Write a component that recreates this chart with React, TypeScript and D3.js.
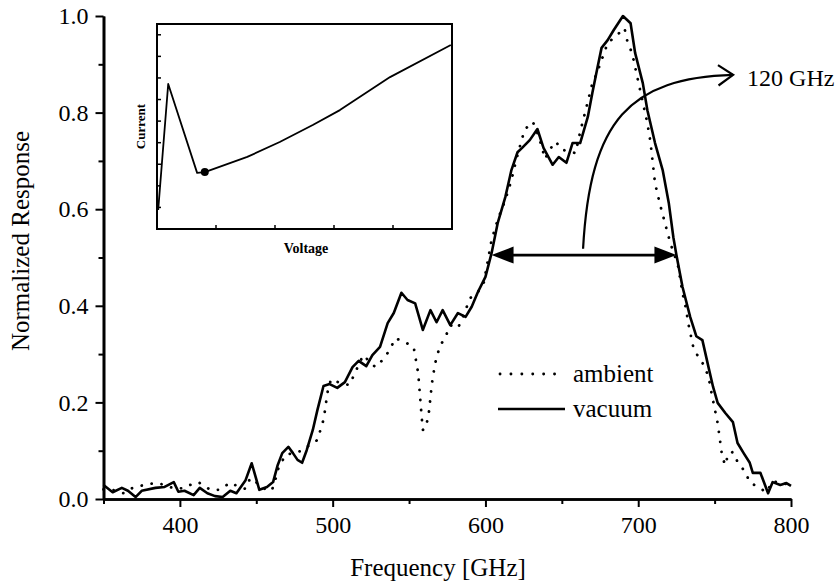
import React, { useEffect, useRef } from "react";
import * as d3 from "d3";

type Pt = [number, number];

// frequency [GHz], normalized response
const vacuum: Pt[] = [
  [350, 0.029], [356, 0.014], [362, 0.023], [366, 0.017], [371, 0.004], [375, 0.017],
  [384, 0.023], [390, 0.025], [396, 0.035], [399, 0.015], [403, 0.017], [409, 0.008],
  [413, 0.023], [418, 0.012], [423, 0.006], [428, 0.004], [433, 0.017], [437, 0.012],
  [443, 0.039], [447, 0.074], [452, 0.019], [457, 0.025], [461, 0.035], [464, 0.07],
  [467, 0.095], [471, 0.108], [474, 0.095], [477, 0.081], [480, 0.075], [483, 0.101],
  [487, 0.143], [490, 0.184], [494, 0.234], [498, 0.238], [503, 0.23], [508, 0.242],
  [513, 0.273], [517, 0.286], [522, 0.275], [526, 0.298], [531, 0.315], [536, 0.364],
  [540, 0.385], [545, 0.427], [549, 0.412], [554, 0.405], [559, 0.35], [564, 0.391],
  [568, 0.366], [572, 0.391], [577, 0.36], [582, 0.385], [587, 0.377], [591, 0.398],
  [595, 0.428], [600, 0.46], [604, 0.509], [608, 0.571], [613, 0.625], [617, 0.681],
  [621, 0.718], [624, 0.727], [629, 0.743], [634, 0.766], [638, 0.727], [644, 0.692],
  [648, 0.708], [653, 0.696], [657, 0.737], [662, 0.737], [667, 0.791], [670, 0.841],
  [673, 0.888], [676, 0.934], [680, 0.95], [684, 0.971], [690, 1.0], [695, 0.985],
  [698, 0.923], [703, 0.861], [706, 0.805], [711, 0.737], [716, 0.681], [720, 0.613],
  [723, 0.542], [725, 0.505], [729, 0.439], [734, 0.377], [738, 0.337], [742, 0.329],
  [746, 0.273], [749, 0.232], [752, 0.199], [757, 0.178], [762, 0.159], [765, 0.116],
  [769, 0.095], [773, 0.075], [775, 0.054], [780, 0.054], [785, 0.012], [788, 0.035],
  [793, 0.029], [797, 0.033], [800, 0.027],
];

const ambient: Pt[] = [
  [350, 0.02], [357, 0.018], [363, 0.012], [369, 0.023], [374, 0.027], [379, 0.031],
  [385, 0.033], [390, 0.029], [396, 0.022], [402, 0.022], [408, 0.031], [412, 0.035],
  [416, 0.027], [420, 0.019], [426, 0.019], [433, 0.034], [438, 0.026], [443, 0.021],
  [446, 0.043], [452, 0.03], [456, 0.02], [460, 0.017], [462, 0.033], [464, 0.06],
  [469, 0.091], [474, 0.095], [480, 0.1], [485, 0.112], [490, 0.122], [492, 0.143],
  [494, 0.164], [495, 0.184], [496, 0.207], [497, 0.228], [499, 0.248], [505, 0.24],
  [511, 0.236], [514, 0.257], [520, 0.298], [524, 0.285], [528, 0.273], [534, 0.292],
  [538, 0.313], [541, 0.333], [547, 0.325], [553, 0.315], [556, 0.26], [558, 0.18],
  [559, 0.143], [561, 0.147], [563, 0.18], [565, 0.24], [567, 0.28], [570, 0.315],
  [574, 0.337], [577, 0.36], [582, 0.354], [585, 0.375], [590, 0.416], [595, 0.428],
  [599, 0.449], [604, 0.536], [608, 0.578], [613, 0.619], [617, 0.66], [620, 0.7],
  [624, 0.747], [626, 0.766], [631, 0.781], [635, 0.75], [639, 0.704], [642, 0.723],
  [646, 0.74], [650, 0.723], [655, 0.72], [659, 0.716], [662, 0.76], [666, 0.81],
  [670, 0.861], [673, 0.882], [680, 0.944], [686, 0.96], [691, 0.975], [693, 0.946],
  [696, 0.923], [701, 0.85], [706, 0.778], [708, 0.739], [711, 0.654], [714, 0.613],
  [721, 0.53], [726, 0.484], [729, 0.426], [731, 0.398], [733, 0.36], [736, 0.315],
  [739, 0.296], [743, 0.277], [746, 0.253], [748, 0.219], [752, 0.157], [755, 0.087],
  [757, 0.07], [759, 0.095], [762, 0.097], [765, 0.077], [770, 0.056], [773, 0.035],
  [778, 0.025], [784, 0.014], [788, 0.037], [793, 0.033], [800, 0.03],
];

const xTicks = [400, 500, 600, 700, 800];
const xMinorTicks = [350, 450, 550, 650, 750];
const yTicks = [0, 0.2, 0.4, 0.6, 0.8, 1.0];
const yMinorTicks = [0.1, 0.3, 0.5, 0.7, 0.9];

const legendItems = [
  { label: "ambient", dotted: true },
  { label: "vacuum", dotted: false },
];

// inset I-V curve (arbitrary voltage / current units)
const ivCurve: Pt[] = [
  [0.02, 0.88], [0.19, 6.72], [0.68, 2.6], [0.81, 2.64], [1.53, 3.34], [2.08, 4.03],
  [2.64, 4.82], [3.1, 5.51], [3.95, 7.04], [4.98, 8.53],
];
const ivBias: Pt = [0.81, 2.64];
const insetXTicks = [1, 2, 3, 4];
const insetYTicks = [1, 2, 3, 4, 5, 6, 7, 8, 9];

// bandwidth annotation
const fwhm = { from: 604, to: 725, level: 0.505 };
const bandwidthCurve: Pt[] = [[663.9, 0.518], [668.5, 0.785], [694.7, 0.872], [762.1, 0.878]];
const bandwidthLabel = "120 GHz";

const W = 839;
const H = 584;
const FONT = "Liberation Serif, DejaVu Serif, Times New Roman, serif";

export default function App() {
  const svgRef = useRef<SVGSVGElement>(null);

  useEffect(() => {
    document.body.style.margin = "0";
    if (!svgRef.current) return;
    const svg = d3.select(svgRef.current);
    svg.selectAll("*").remove();

    const x = d3.scaleLinear().domain([350, 800]).range([103.5, 791]);
    const y = d3.scaleLinear().domain([0, 1]).range([499, 16]);

    // Axes
    const styleAxis = (g: d3.Selection<SVGGElement, unknown, null, undefined>) => {
      g.attr("font-family", FONT).attr("font-size", 24);
      g.select(".domain").attr("stroke", "#000").attr("stroke-width", 2.6);
      g.selectAll(".tick line").attr("stroke", "#000").attr("stroke-width", 2);
      g.selectAll(".tick text").attr("fill", "#000");
    };

    const xMinor = svg.append("g").attr("transform", `translate(0,${y(0)})`)
      .call(d3.axisBottom(x).tickValues(xMinorTicks).tickSize(5).tickSizeOuter(0).tickFormat(() => ""));
    styleAxis(xMinor);
    const xAxis = svg.append("g").attr("transform", `translate(0,${y(0)})`)
      .call(d3.axisBottom(x).tickValues(xTicks).tickSize(8).tickSizeOuter(0).tickPadding(9)
        .tickFormat((d) => String(d)));
    styleAxis(xAxis);

    const yMinor = svg.append("g").attr("transform", `translate(${x(350)},0)`)
      .call(d3.axisLeft(y).tickValues(yMinorTicks).tickSize(5).tickSizeOuter(0).tickFormat(() => ""));
    styleAxis(yMinor);
    const yAxis = svg.append("g").attr("transform", `translate(${x(350)},0)`)
      .call(d3.axisLeft(y).tickValues(yTicks).tickSize(8).tickSizeOuter(0).tickPadding(7)
        .tickFormat(d3.format(".1f")));
    styleAxis(yAxis);

    // Axis titles
    svg.append("text")
      .attr("x", 438).attr("y", 576)
      .attr("text-anchor", "middle")
      .attr("font-family", FONT).attr("font-size", 25)
      .text("Frequency [GHz]");
    svg.append("text")
      .attr("transform", `translate(29,241) rotate(-90)`)
      .attr("text-anchor", "middle")
      .attr("font-family", FONT).attr("font-size", 25)
      .text("Normalized Response");

    // Series
    const line = d3.line<Pt>().x((d) => x(d[0])).y((d) => y(d[1]));
    svg.append("path").datum(ambient)
      .attr("fill", "none").attr("stroke", "#000").attr("stroke-width", 2.8)
      .attr("stroke-linecap", "round").attr("stroke-dasharray", "0.1 10")
      .attr("d", line);
    svg.append("path").datum(vacuum)
      .attr("fill", "none").attr("stroke", "#000").attr("stroke-width", 2.6)
      .attr("stroke-linejoin", "round")
      .attr("d", line);

    // FWHM double arrow
    const ay = y(fwhm.level);
    const ax1 = x(fwhm.from);
    const ax2 = x(fwhm.to);
    svg.append("line")
      .attr("x1", ax1 + 10).attr("x2", ax2 - 10).attr("y1", ay).attr("y2", ay)
      .attr("stroke", "#000").attr("stroke-width", 2.6);
    svg.append("path")
      .attr("d", `M${ax1},${ay} L${ax1 + 22},${ay - 8.5} L${ax1 + 22},${ay + 8.5} Z`)
      .attr("fill", "#000");
    svg.append("path")
      .attr("d", `M${ax2},${ay} L${ax2 - 22},${ay - 8.5} L${ax2 - 22},${ay + 8.5} Z`)
      .attr("fill", "#000");

    // Curved arrow to label
    const [p0, p1, p2, p3] = bandwidthCurve.map((p) => [x(p[0]), y(p[1])]);
    const cp = d3.path();
    cp.moveTo(p0[0], p0[1]);
    cp.bezierCurveTo(p1[0], p1[1], p2[0], p2[1], p3[0], p3[1]);
    svg.append("path").attr("d", cp.toString())
      .attr("fill", "none").attr("stroke", "#000").attr("stroke-width", 2.2);
    const ang = Math.atan2(p3[1] - p2[1], p3[0] - p2[0]);
    const arm = 18;
    const spread = 0.6;
    const a1 = [p3[0] - arm * Math.cos(ang - spread), p3[1] - arm * Math.sin(ang - spread)];
    const a2 = [p3[0] - arm * Math.cos(ang + spread), p3[1] - arm * Math.sin(ang + spread)];
    svg.append("path")
      .attr("d", `M${a1[0]},${a1[1]} L${p3[0]},${p3[1]} L${a2[0]},${a2[1]}`)
      .attr("fill", "none").attr("stroke", "#000").attr("stroke-width", 2.2);
    svg.append("text")
      .attr("x", p3[0] + 14).attr("y", p3[1] + 11)
      .attr("font-family", FONT).attr("font-size", 24)
      .text(bandwidthLabel);

    // Legend
    const legend = svg.append("g").attr("transform", "translate(498,374)");
    legendItems.forEach((item, i) => {
      const ly = i * 35;
      legend.append("line")
        .attr("x1", item.dotted ? 2 : 0).attr("x2", 67).attr("y1", ly).attr("y2", ly)
        .attr("stroke", "#000").attr("stroke-width", item.dotted ? 2.8 : 2.6)
        .attr("stroke-linecap", item.dotted ? "round" : "butt")
        .attr("stroke-dasharray", item.dotted ? "0.1 10.8" : null);
      legend.append("text")
        .attr("x", 75).attr("y", ly + 8)
        .attr("font-family", FONT).attr("font-size", 25)
        .text(item.label);
    });

    // Inset I-V curve
    const ix = d3.scaleLinear().domain([0, 5]).range([157, 452]);
    const iy = d3.scaleLinear().domain([0, 9.5]).range([229, 24]);
    const inset = svg.append("g");
    inset.append("rect")
      .attr("x", ix(0)).attr("y", iy(9.5))
      .attr("width", ix(5) - ix(0)).attr("height", iy(0) - iy(9.5))
      .attr("fill", "#fff").attr("stroke", "#000").attr("stroke-width", 2);
    insetXTicks.forEach((t) => {
      inset.append("line")
        .attr("x1", ix(t)).attr("x2", ix(t)).attr("y1", iy(0)).attr("y2", iy(0) - 4)
        .attr("stroke", "#000").attr("stroke-width", 1.5);
    });
    insetYTicks.forEach((t) => {
      inset.append("line")
        .attr("x1", ix(0)).attr("x2", ix(0) + 4).attr("y1", iy(t)).attr("y2", iy(t))
        .attr("stroke", "#000").attr("stroke-width", 1.5);
    });
    const ivLine = d3.line<Pt>().x((d) => ix(d[0])).y((d) => iy(d[1]));
    inset.append("path").datum(ivCurve)
      .attr("fill", "none").attr("stroke", "#000").attr("stroke-width", 1.8)
      .attr("stroke-linejoin", "round")
      .attr("d", ivLine);
    inset.append("circle")
      .attr("cx", ix(ivBias[0])).attr("cy", iy(ivBias[1])).attr("r", 4)
      .attr("fill", "#000");
    inset.append("text")
      .attr("x", 306).attr("y", 253)
      .attr("text-anchor", "middle")
      .attr("font-family", FONT).attr("font-size", 14).attr("font-weight", "bold")
      .text("Voltage");
    inset.append("text")
      .attr("transform", `translate(145,${(iy(0) + iy(9.5)) / 2}) rotate(-90)`)
      .attr("text-anchor", "middle")
      .attr("font-family", FONT).attr("font-size", 13).attr("font-weight", "bold")
      .text("Current");
  }, []);

  return (
    <svg
      ref={svgRef}
      width={W}
      height={H}
      style={{ display: "block", background: "#fff" }}
    />
  );
}
